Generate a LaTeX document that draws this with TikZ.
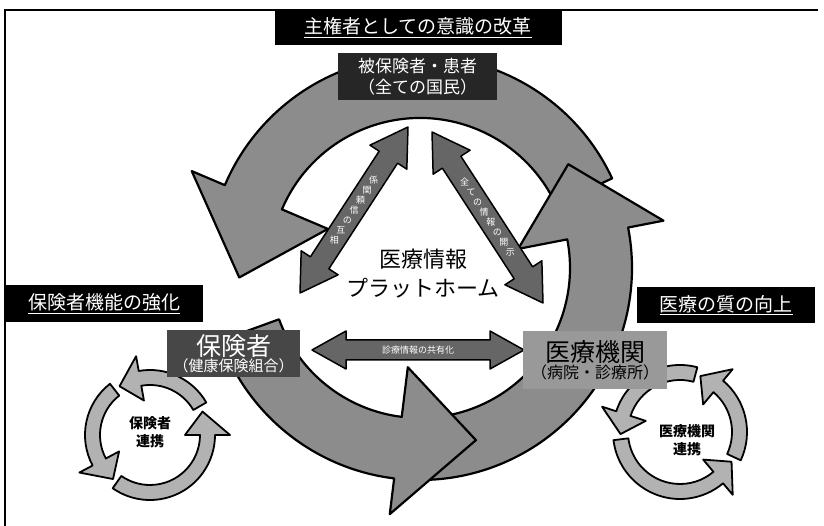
\documentclass[tikz,border=0pt]{standalone}
\usepackage{fontspec}
\setmainfont{Noto Sans CJK JP}
\usetikzlibrary{calc}
\tikzset{
  ringarrow/.style={fill=black!45, draw=black, line width=2.2pt, line join=round},
  smallarrow/.style={fill=black!30, draw=black, line width=1.8pt, line join=round},
  dblarrowstyle/.style={fill=black!60, draw=black, line width=1.5pt, line join=round},
  titlebox/.style={fill=black, text=white, inner sep=0pt, font=\fontsize{19}{19}\selectfont},
  arrowtext/.style={text=white, font=\fontsize{9}{9}\selectfont, inner sep=0pt},
}
% circular arrow: [style] rin rout hin hout startangle headbase tip
\newcommand{\carrow}[8][]{%
  \path[#1] (#6:#3) arc[start angle=#6, end angle=#7, radius=#3] -- (#7:#5) -- (#8:{(#2+#3)/2}) -- (#7:#4) -- (#7:#2) arc[start angle=#7, end angle=#6, radius=#2] -- cycle;}
% double arrow between named coordinates: {A}{B}{shaft half}{head half}{head length}
\newcommand{\dblarrow}[5]{%
  \coordinate (dA) at ($(#1)!#5!(#2)$);
  \coordinate (dB) at ($(#2)!#5!(#1)$);
  \path[dblarrowstyle] (#1) -- ($(dA)!#4!90:(#2)$) -- ($(dA)!#3!90:(#2)$) -- ($(dB)!#3!-90:(#1)$) -- ($(dB)!#4!-90:(#1)$) -- (#2) -- ($(dB)!#4!90:(#1)$) -- ($(dB)!#3!90:(#1)$) -- ($(dA)!#3!-90:(#2)$) -- ($(dA)!#4!-90:(#2)$) -- cycle;}
\begin{document}
\begin{tikzpicture}[x=1pt,y=1pt]
\useasboundingbox (0,0) rectangle (824,526);
% frame
\draw[line width=1.5pt] (5,0) -- (5,516) -- (818,516);

% big cycle
\begin{scope}[shift={(420,258)}]
  \carrow[ringarrow]{150}{212}{100}{248}{25}{157}{183}
  \carrow[ringarrow]{150}{212}{100}{248}{-95}{11}{35}
  \carrow[ringarrow]{150}{212}{100}{248}{200}{263}{288}
\end{scope}

% small cycle left
\begin{scope}[shift={(150,91)}]
  \carrow[smallarrow]{50}{65}{35}{80}{235}{360}{384}
  \carrow[smallarrow]{50}{65}{35}{80}{30}{100}{122}
  \carrow[smallarrow]{50}{65}{35}{80}{128}{208}{230}
\end{scope}
% small cycle right
\begin{scope}[shift={(680,94)}]
  \carrow[smallarrow]{52}{67}{36}{82}{75}{162}{182}
  \carrow[smallarrow]{52}{67}{36}{82}{187}{310}{330}
  \carrow[smallarrow]{52}{67}{36}{82}{335}{410}{430}
\end{scope}

% double arrows
\coordinate (la) at (300,233);
\coordinate (lb) at (408,399);
\coordinate (ra) at (432,394);
\coordinate (rb) at (543,223);
\coordinate (ha) at (312,176);
\coordinate (hb) at (524,176);
\dblarrow{la}{lb}{11pt}{22pt}{36pt}
\dblarrow{ra}{rb}{11pt}{22pt}{36pt}
\dblarrow{ha}{hb}{10pt}{19pt}{34pt}
\foreach \c [count=\i] in {相,互,の,信,頼,関,係}
  \node[arrowtext] (lt\i) at ($(la)!{0.5+(\i-4)*12/198}!(lb)$) {\c};
\foreach \c [count=\i] in {全,て,の,情,報,の,開,示}
  \node[arrowtext] (rt\i) at ($(ra)!{0.5+(\i-4.5)*12/203}!(rb)$) {\c};
\node[arrowtext] (ht) at ($(ha)!0.5!(hb)$) {診療情報の共有化};

% centre text
\node[align=center, font=\fontsize{22}{29}\selectfont] (ctr) at (423,252) {医療情報\\プラットホーム};

% boxes
\node[fill=black!85, text=white, minimum width=159pt, minimum height=47pt, inner sep=0pt, align=center, font=\fontsize{17}{21}\selectfont] (top) at (417.5,449.5) {被保険者・患者\\（全ての国民）};
\node[fill=black!72, text=white, minimum width=133pt, minimum height=47pt, inner sep=0pt, align=center] (ins) at (233.5,172.5) {{\fontsize{25}{26}\selectfont 保険者}\\{\fontsize{15}{17}\selectfont （健康保険組合）}};
\node[fill=black!40, text=black, minimum width=144pt, minimum height=58pt, inner sep=0pt, align=center] (med) at (595,166) {{\fontsize{25}{27}\selectfont 医療機関}\\{\fontsize{16}{19}\selectfont （病院・診療所）}};

% small cycle labels
\node[align=center, font=\fontsize{14}{18}\selectfont\bfseries] (lc) at (150,94) {保険者\\連携};
\node[align=center, font=\fontsize{14}{18}\selectfont\bfseries] (rc) at (687,86) {医療機関\\連携};

% titles
\node[titlebox, minimum width=287pt, minimum height=35pt] (t1) at (418,498.5) {\underline{主権者としての意識の改革}};
\node[titlebox, minimum width=198pt, minimum height=37pt] (t2) at (104,222.5) {\underline{保険者機能の強化}};
\node[titlebox, minimum width=178pt, minimum height=36pt] (t3) at (726,221) {\underline{医療の質の向上}};
\end{tikzpicture}
\end{document}
